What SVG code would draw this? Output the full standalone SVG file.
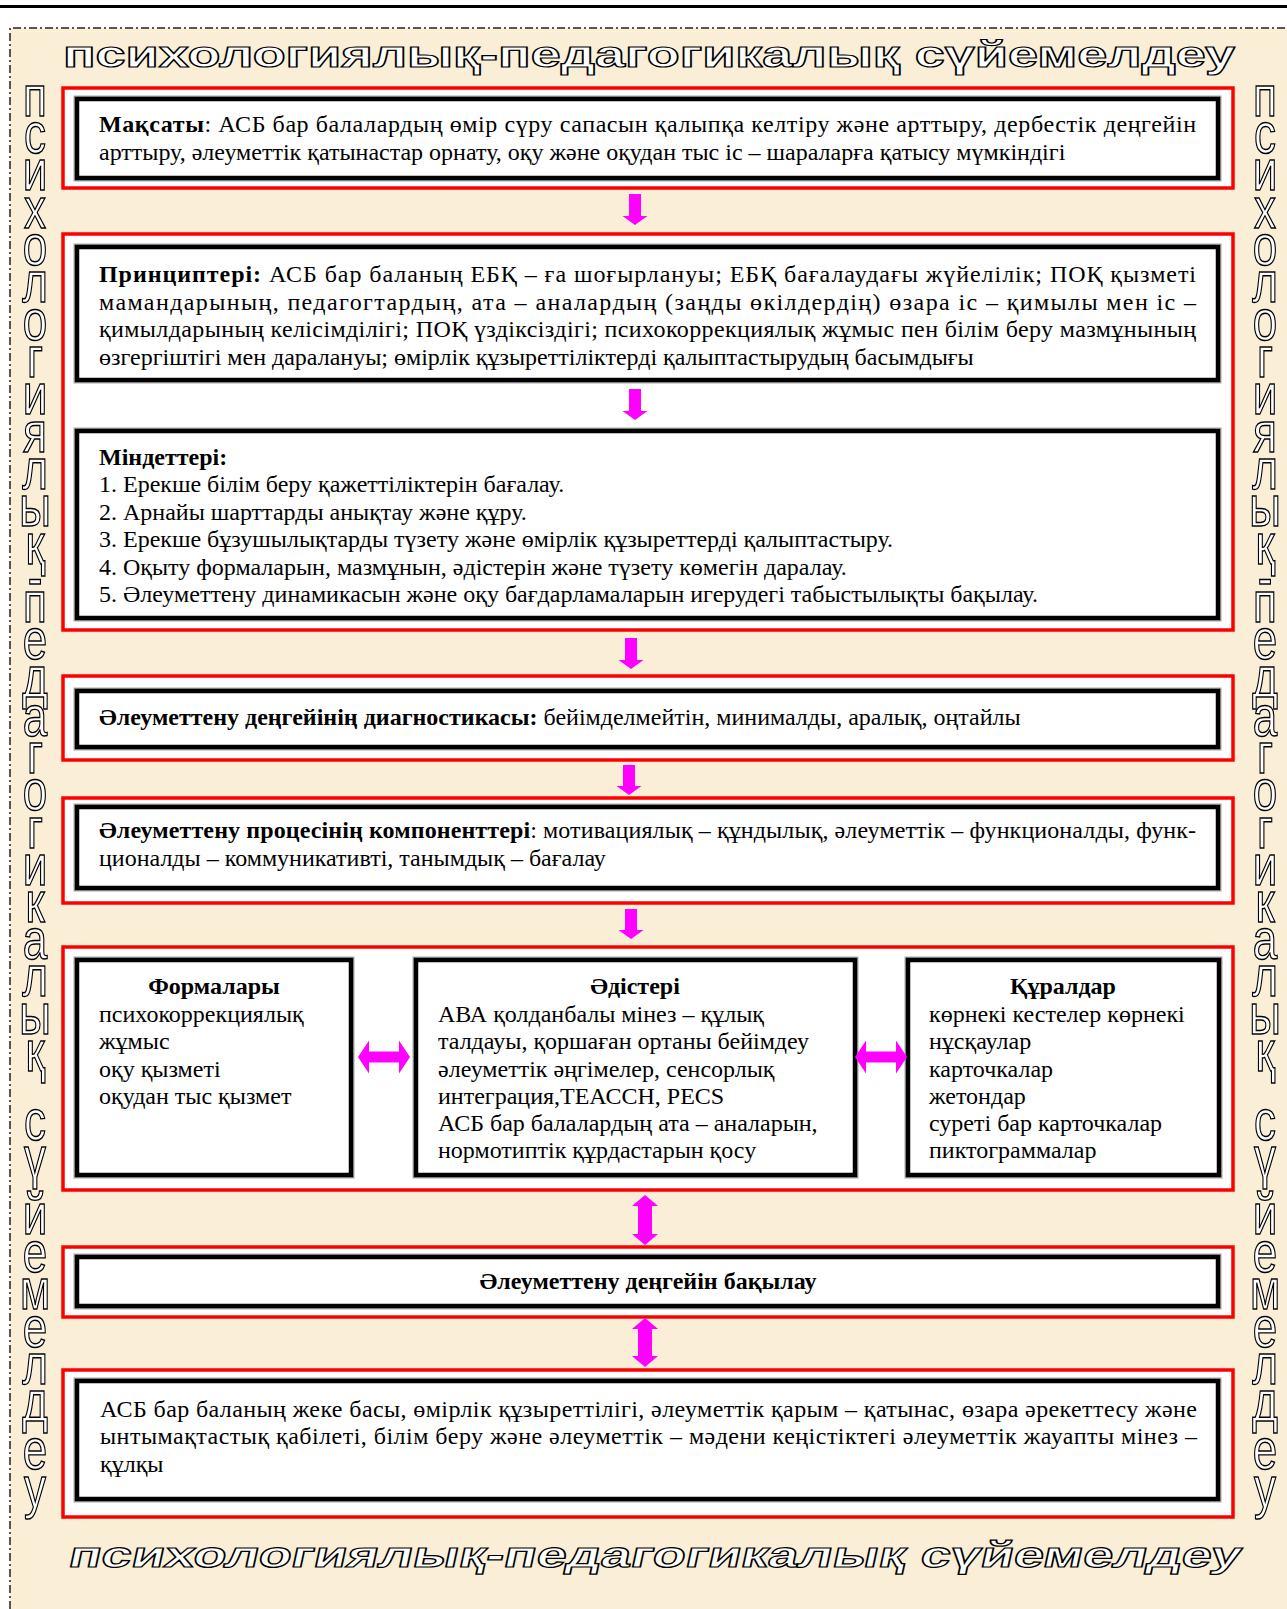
<svg xmlns="http://www.w3.org/2000/svg" width="1287" height="1609" viewBox="0 0 1287 1609">
<defs>
<style>
.red{fill:#fff;stroke:#ff0000;stroke-width:3.5}
.blk{fill:#fff;stroke:#000;stroke-width:4.5}
.halo{fill:none;stroke:#a8a8a8;stroke-width:7}
.t{font-family:"Liberation Serif","Times New Roman",serif;font-size:24px;fill:#000}
.b{font-weight:bold}
.arr{fill:#ff00ff}
.side{font-family:"Liberation Sans",Arial,sans-serif;font-size:44px;fill:#fff;stroke:#000;stroke-width:1.1;text-anchor:middle}
.title{font-family:"Liberation Sans",Arial,sans-serif;font-weight:bold;font-size:36px;fill:#fff;stroke:#000;stroke-width:1.2}
</style>
</defs>
<rect x="0" y="0" width="1287" height="1609" fill="#fff"/>
<rect x="10" y="28" width="1277" height="1581" fill="#faeed7"/>
<rect x="0" y="5" width="1287" height="3" fill="#000"/>
<path d="M10,1609 V28 H1287" fill="none" stroke="#222" stroke-width="1.5" stroke-dasharray="8 3 2 3"/>

<g id="title-top">
<text class="title" x="63" y="67" textLength="1172" lengthAdjust="spacingAndGlyphs">психологиялық-педагогикалық сүйемелдеу</text>
</g>
<g id="title-bottom" transform="translate(333.1,0) skewX(-12)">
<text class="title" x="67" y="1567" textLength="1172" lengthAdjust="spacingAndGlyphs">психологиялық-педагогикалық сүйемелдеу</text>
</g>

<g id="side-left" transform="translate(35,0) scale(1,1.3)">
<text class="side" x="0 0 0 0 0 0 0 0 0 0 0 0 0 0 0 0 0 0 0 0 0 0 0 0 0 0 0 0 0 0 0 0 0 0 0 0 0 0" y="89.2 117.7 146.2 175.4 203.8 232.3 261.5 290 318.5 347.7 376.2 404.6 433.8 459.6 478.5 506.9 536.2 566.2 594.6 623.1 652.3 680.8 709.2 737.7 766.2 795.4 823.8 850 876.9 905.4 949.6 978.5 1006.9 1036.2 1064.6 1093.1 1130 1159.2">психологиялық-педагогикалық сүйемелдеу</text>
</g>
<g id="side-right" transform="translate(1265,0) scale(1,1.3)">
<text class="side" x="0 0 0 0 0 0 0 0 0 0 0 0 0 0 0 0 0 0 0 0 0 0 0 0 0 0 0 0 0 0 0 0 0 0 0 0 0 0" y="89.2 117.7 146.2 175.4 203.8 232.3 261.5 290 318.5 347.7 376.2 404.6 433.8 459.6 478.5 506.9 536.2 566.2 594.6 623.1 652.3 680.8 709.2 737.7 766.2 795.4 823.8 850 876.9 905.4 949.6 978.5 1006.9 1036.2 1064.6 1093.1 1130 1159.2">психологиялық-педагогикалық сүйемелдеу</text>
</g>

<g id="goal">
<rect class="red" x="63" y="88" width="1170" height="100"/>
<rect class="halo" x="77" y="99" width="1141" height="79"/>
<rect class="blk" x="77" y="99" width="1141" height="79"/>
<text class="t" x="99" y="132" textLength="1097" lengthAdjust="spacing"><tspan class="b">Мақсаты</tspan>: АСБ бар балалардың өмір сүру сапасын қалыпқа келтіру және арттыру, дербестік деңгейін</text>
<text class="t" x="99" y="159.5">арттыру, әлеуметтік қатынастар орнату, оқу және оқудан тыс іс – шараларға қатысу мүмкіндігі</text>
</g>

<g id="principles-tasks">
<rect class="red" x="63" y="234" width="1170" height="396"/>
<g id="principles">
<rect class="halo" x="77" y="247" width="1141" height="133"/>
<rect class="blk" x="77" y="247" width="1141" height="133"/>
<text class="t" x="99" y="282" textLength="1097" lengthAdjust="spacing"><tspan class="b">Принциптері:</tspan> АСБ бар баланың ЕБҚ – ға шоғырлануы; ЕБҚ бағалаудағы жүйелілік; ПОҚ қызметі</text>
<text class="t" x="99" y="309.5" textLength="1097" lengthAdjust="spacing">мамандарының, педагогтардың, ата – аналардың (заңды өкілдердің) өзара іс – қимылы мен іс –</text>
<text class="t" x="99" y="337" textLength="1097" lengthAdjust="spacing">қимылдарының келісімділігі; ПОҚ үздіксіздігі; психокоррекциялық жұмыс пен білім беру мазмұнының</text>
<text class="t" x="99" y="364.5">өзгергіштігі мен даралануы; өмірлік құзыреттіліктерді қалыптастырудың басымдығы</text>
</g>
<g id="tasks">
<rect class="halo" x="77" y="431" width="1141" height="187"/>
<rect class="blk" x="77" y="431" width="1141" height="187"/>
<text class="t b" x="99" y="465">Міндеттері:</text>
<text class="t" x="99" y="492">1. Ерекше білім беру қажеттіліктерін бағалау.</text>
<text class="t" x="99" y="520">2. Арнайы шарттарды анықтау және құру.</text>
<text class="t" x="99" y="547">3. Ерекше бұзушылықтарды түзету және өмірлік құзыреттерді қалыптастыру.</text>
<text class="t" x="99" y="575">4. Оқыту формаларын, мазмұнын, әдістерін және түзету көмегін даралау.</text>
<text class="t" x="99" y="602">5. Әлеуметтену динамикасын және оқу бағдарламаларын игерудегі табыстылықты бақылау.</text>
</g>
</g>

<g id="diagnostics">
<rect class="red" x="63" y="676" width="1170" height="84"/>
<rect class="halo" x="77" y="691" width="1141" height="56"/>
<rect class="blk" x="77" y="691" width="1141" height="56"/>
<text class="t" x="99" y="725"><tspan class="b">Әлеуметтену деңгейінің диагностикасы:</tspan> бейімделмейтін, минималды, аралық, оңтайлы</text>
</g>

<g id="components">
<rect class="red" x="63" y="798" width="1170" height="105"/>
<rect class="halo" x="77" y="807" width="1141" height="81"/>
<rect class="blk" x="77" y="807" width="1141" height="81"/>
<text class="t" x="99" y="838" textLength="1097" lengthAdjust="spacing"><tspan class="b">Әлеуметтену процесінің компоненттері</tspan>: мотивациялық – құндылық, әлеуметтік – функционалды, функ-</text>
<text class="t" x="99" y="866">ционалды – коммуникативті, танымдық – бағалау</text>
</g>

<g id="forms-methods-tools">
<rect class="red" x="63" y="947" width="1170" height="243"/>
<g id="forms">
<rect class="halo" x="77" y="960" width="274" height="215"/>
<rect class="blk" x="77" y="960" width="274" height="215"/>
<text class="t b" x="214" y="994" text-anchor="middle">Формалары</text>
<text class="t" x="99" y="1022">психокоррекциялық</text>
<text class="t" x="99" y="1049">жұмыс</text>
<text class="t" x="99" y="1077">оқу қызметі</text>
<text class="t" x="99" y="1104">оқудан тыс қызмет</text>
</g>
<g id="methods">
<rect class="halo" x="416" y="960" width="439" height="215"/>
<rect class="blk" x="416" y="960" width="439" height="215"/>
<text class="t b" x="635" y="994" text-anchor="middle">Әдістері</text>
<text class="t" x="438" y="1022">АВА қолданбалы мінез – құлық</text>
<text class="t" x="438" y="1049">талдауы, қоршаған ортаны бейімдеу</text>
<text class="t" x="438" y="1077">әлеуметтік әңгімелер, сенсорлық</text>
<text class="t" x="438" y="1104">интеграция,ТЕАССН, PECS</text>
<text class="t" x="438" y="1131">АСБ бар балалардың ата – аналарын,</text>
<text class="t" x="438" y="1158">нормотиптік құрдастарын қосу</text>
</g>
<g id="tools">
<rect class="halo" x="908" y="960" width="311" height="215"/>
<rect class="blk" x="908" y="960" width="311" height="215"/>
<text class="t b" x="1063" y="994" text-anchor="middle">Құралдар</text>
<text class="t" x="929" y="1022">көрнекі кестелер көрнекі</text>
<text class="t" x="929" y="1049">нұсқаулар</text>
<text class="t" x="929" y="1077">карточкалар</text>
<text class="t" x="929" y="1104">жетондар</text>
<text class="t" x="929" y="1131">суреті бар карточкалар</text>
<text class="t" x="929" y="1158">пиктограммалар</text>
</g>
</g>

<g id="monitoring">
<rect class="red" x="63" y="1247" width="1170" height="70"/>
<rect class="halo" x="77" y="1257" width="1141" height="49"/>
<rect class="blk" x="77" y="1257" width="1141" height="49"/>
<text class="t b" x="648" y="1289" text-anchor="middle">Әлеуметтену деңгейін бақылау</text>
</g>

<g id="result">
<rect class="red" x="63" y="1370" width="1170" height="147"/>
<rect class="halo" x="77" y="1381" width="1141" height="118"/>
<rect class="blk" x="77" y="1381" width="1141" height="118"/>
<text class="t" x="100" y="1417" textLength="1097" lengthAdjust="spacing">АСБ бар баланың жеке басы, өмірлік құзыреттілігі, әлеуметтік қарым – қатынас, өзара әрекеттесу және</text>
<text class="t" x="100" y="1444" textLength="1097" lengthAdjust="spacing">ынтымақтастық қабілеті, білім беру және әлеуметтік – мәдени кеңістіктегі әлеуметтік жауапты мінез –</text>
<text class="t" x="100" y="1472">құлқы</text>
</g>

<g id="connectors">
<polygon class="arr" points="629,194 641,194 641,216 647.5,216 635,225 622.5,216 629,216"/>
<polygon class="arr" points="629,389 641,389 641,411 647.5,411 635,420 622.5,411 629,411"/>
<polygon class="arr" points="625,638 637,638 637,660 643.5,660 631,669 618.5,660 625,660"/>
<polygon class="arr" points="623,765 635,765 635,786 641.5,786 629,795 616.5,786 623,786"/>
<polygon class="arr" points="625,909 637,909 637,930 643.5,930 631,939 618.5,930 625,930"/>
<polygon class="arr" points="358,1057 369,1040.5 369,1051.5 399,1051.5 399,1040.5 410,1057 399,1073.5 399,1062.5 369,1062.5 369,1073.5"/>
<polygon class="arr" points="855,1057 866,1040.5 866,1051.5 896,1051.5 896,1040.5 907,1057 896,1073.5 896,1062.5 866,1062.5 866,1073.5"/>
<polygon class="arr" points="645,1195 658,1206 652,1206 652,1234 658,1234 645,1245 632,1234 638,1234 638,1206 632,1206"/>
<polygon class="arr" points="645,1318 658,1329 652,1329 652,1356 658,1356 645,1367 632,1356 638,1356 638,1329 632,1329"/>
</g>
</svg>
